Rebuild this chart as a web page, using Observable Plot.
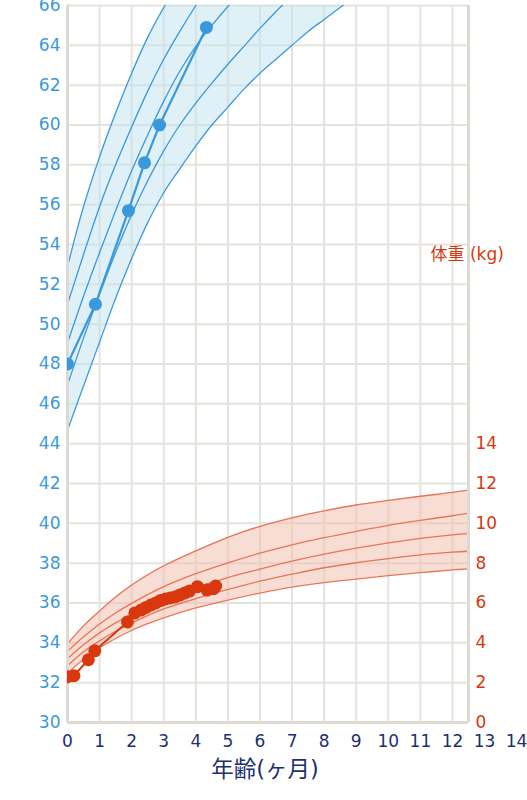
<!DOCTYPE html>
<html>
<head>
<meta charset="utf-8">
<script src="https://cdn.jsdelivr.net/npm/d3@7"></script>
<script src="https://cdn.jsdelivr.net/npm/@observablehq/plot@0.6"></script>
<style>
  html, body { margin: 0; padding: 0; background: #fff; }
</style>
</head>
<body>
<div id="chart"></div>
<script>
// ---- Height reference curves (cm) ----
const heightMonths = [0, 0.5, 1, 1.5, 2, 2.5, 3, 3.5, 4, 4.5, 5, 5.5, 6, 6.5, 7, 7.5, 8, 8.5, 9, 9.5];
const heightC1 = [52.9, 55.9, 58.4, 60.6, 62.6, 64.4, 65.9, 67.3, 68.5];
const heightC2 = [51.0, 53.5, 55.9, 58.0, 59.9, 61.7, 63.3, 64.7, 66.0, 67.2, 68.3];
const heightC3 = [49.05, 51.4, 53.6, 55.7, 57.7, 59.5, 61.2, 62.7, 63.95, 65.0, 65.95, 66.8, 67.5];
const heightC4 = [46.95, 49.3, 51.5, 53.6, 55.5, 57.2, 58.7, 60.0, 61.1, 62.1, 63.05, 63.95, 64.85, 65.7, 66.5, 67.3];
const heightC5 = [44.67, 46.9, 49.1, 51.3, 53.3, 55.1, 56.6, 57.8, 58.95, 60.0, 60.9, 61.8, 62.6, 63.3, 64.0, 64.7, 65.3, 65.9, 66.5, 67.0];

// ---- Weight reference curves (kg) ----
const weightMonths = [0, 0.5, 1, 1.5, 2, 2.5, 3, 4, 5, 6, 7, 8, 9, 10, 11, 12, 12.5];
const weightC1 = [3.95, 4.85, 5.6, 6.3, 6.9, 7.42, 7.87, 8.62, 9.3, 9.85, 10.28, 10.63, 10.92, 11.15, 11.36, 11.55, 11.67];
const weightC2 = [3.57, 4.3, 4.95, 5.5, 5.98, 6.42, 6.82, 7.47, 8.02, 8.5, 8.92, 9.28, 9.6, 9.9, 10.15, 10.38, 10.5];
const weightC3 = [3.2, 3.9, 4.5, 5.0, 5.45, 5.85, 6.2, 6.78, 7.28, 7.7, 8.1, 8.45, 8.75, 9.02, 9.25, 9.42, 9.48];
const weightC4 = [2.85, 3.55, 4.1, 4.58, 5.0, 5.37, 5.7, 6.22, 6.68, 7.1, 7.45, 7.77, 8.02, 8.23, 8.42, 8.55, 8.6];
const weightC5 = [2.48, 3.18, 3.75, 4.22, 4.62, 4.96, 5.25, 5.75, 6.15, 6.5, 6.8, 7.02, 7.2, 7.37, 7.52, 7.66, 7.72];

// ---- Measurements ----
const heightAge = [0, 0.87, 1.9, 2.4, 2.87, 4.33];
const heightValue = [48.0, 51.0, 55.7, 58.1, 60.0, 64.9];

const weightAge = [0, 0.2, 0.65, 0.85, 1.87, 2.1, 2.3, 2.45, 2.6, 2.75, 2.9, 3.05, 3.2, 3.35, 3.5, 3.65, 3.8, 4.05, 4.35, 4.55, 4.62];
const weightValue = [2.3, 2.35, 3.15, 3.6, 5.05, 5.5, 5.65, 5.78, 5.9, 6.0, 6.12, 6.2, 6.25, 6.3, 6.4, 6.5, 6.6, 6.82, 6.65, 6.72, 6.85];

// ---- Axis ticks ----
const xTicks = [0, 1, 2, 3, 4, 5, 6, 7, 8, 9, 10, 11, 12, 13, 14];
const xGrid = [0, 1, 2, 3, 4, 5, 6, 7, 8, 9, 10, 11, 12];
const heightTicks = [30, 32, 34, 36, 38, 40, 42, 44, 46, 48, 50, 52, 54, 56, 58, 60, 62, 64, 66];
const weightTicks = [0, 2, 4, 6, 8, 10, 12, 14];
const weightOffset = 30; // weight axis shares the height scale: 0 kg at 30 cm

const xLabel = "年齢(ヶ月)";
const weightLabel = "体重 (kg)";

// colors
const blue = "#3a98dc";
const blueBand = "#bfe3ed";
const red = "#d9380f";
const redCurve = "#e77559";
const redBand = "#f1bbab";
const navy = "#1d2f6e";
const gridColor = "#e5e3dd";
const axisColor = "#dcdad3";

// tidy data
const heightCurves = [heightC1, heightC2, heightC3, heightC4, heightC5];
const heightCurveRows = heightCurves.flatMap((c, k) => c.map((v, i) => ({m: heightMonths[i], v, k})));
const heightBand = heightMonths.map((m, i) => ({m, lo: heightC5[i], hi: heightC1[i] !== undefined ? heightC1[i] : 72}));

const weightCurves = [weightC1, weightC2, weightC3, weightC4, weightC5];
const weightCurveRows = weightCurves.flatMap((c, k) => c.map((v, i) => ({m: weightMonths[i], v, k})));
const weightBand = weightMonths.map((m, i) => ({m, lo: weightC5[i], hi: weightC1[i]}));

const heightPts = heightAge.map((m, i) => ({m, v: heightValue[i]}));
const weightPts = weightAge.map((m, i) => ({m, v: weightValue[i]}));

const smooth = "catmull-rom";

const chart = Plot.plot({
  width: 527,
  height: 800,
  marginTop: 5,
  marginBottom: 78,
  marginLeft: 67,
  marginRight: 59,
  x: {domain: [0, 12.5]},
  y: {domain: [30, 66]},
  style: {fontFamily: "'DejaVu Sans', 'Noto Sans CJK JP', sans-serif", background: "#fff"},
  marks: [
    Plot.gridX(xGrid, {stroke: gridColor, strokeOpacity: 1, strokeWidth: 2}),
    Plot.gridY(heightTicks, {stroke: gridColor, strokeOpacity: 1, strokeWidth: 2}),

    // bands
    Plot.areaY(heightBand, {x: "m", y1: "lo", y2: "hi", fill: blueBand, fillOpacity: 0.5, curve: smooth, clip: true}),
    Plot.areaY(weightBand, {x: "m", y1: d => d.lo + weightOffset, y2: d => d.hi + weightOffset, fill: redBand, fillOpacity: 0.5, curve: smooth, clip: true}),

    // reference curves
    Plot.line(heightCurveRows, {x: "m", y: "v", z: "k", stroke: blue, strokeWidth: 1.3, curve: smooth, clip: true}),
    Plot.line(weightCurveRows, {x: "m", y: d => d.v + weightOffset, z: "k", stroke: redCurve, strokeWidth: 1.3, curve: smooth, clip: true}),

    // frame
    Plot.ruleX([0, 12.5], {stroke: axisColor, strokeWidth: 3}),
    Plot.ruleY([30], {stroke: axisColor, strokeWidth: 3}),

    // measurements
    Plot.line(heightPts, {x: "m", y: "v", stroke: blue, strokeWidth: 2.2, clip: true}),
    Plot.dot(heightPts, {x: "m", y: "v", r: 6.5, fill: blue, clip: true}),
    Plot.line(weightPts, {x: "m", y: d => d.v + weightOffset, stroke: red, strokeWidth: 2, clip: true}),
    Plot.dot(weightPts, {x: "m", y: d => d.v + weightOffset, r: 6.5, fill: red, clip: true}),

    // axes
    Plot.axisY(heightTicks, {anchor: "left", tickSize: 0, tickPadding: 7, fill: blue, fontSize: 17, label: null}),
    Plot.axisY(weightTicks.map(w => w + weightOffset), {anchor: "right", tickSize: 0, tickPadding: 7, fill: red, fontSize: 17, label: null, tickFormat: d => d - weightOffset}),
    Plot.axisX(xTicks, {anchor: "bottom", tickSize: 0, tickPadding: 12, fill: navy, fontSize: 17, label: null}),

    // axis titles
    Plot.text([xLabel], {frameAnchor: "bottom", dx: -3, dy: 54, fill: navy, fontSize: 22.5, text: d => d}),
    Plot.text([weightLabel], {frameAnchor: "top-right", dx: -38, dy: 242, textAnchor: "start", fill: red, fontSize: 17, text: d => d})
  ]
});
document.getElementById("chart").appendChild(chart);
</script>
</body>
</html>
